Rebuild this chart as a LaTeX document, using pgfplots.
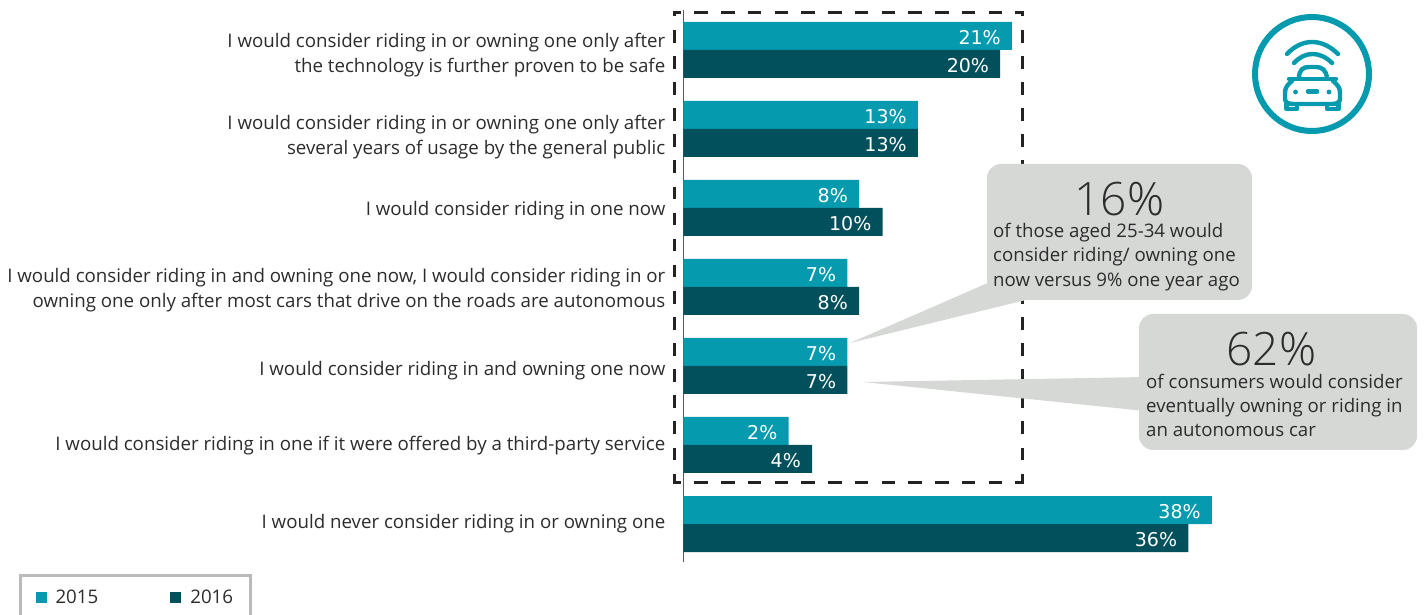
\documentclass[border=0pt]{standalone}
\usepackage{pgfplots}
\pgfplotsset{compat=1.18}
\usepackage{fontspec}
\setmainfont{Open Sans}
\newfontfamily\lightfont{Open Sans Light}
\newfontfamily\barfont{DejaVu Sans}
\definecolor{teal15}{HTML}{069AAE}
\definecolor{teal16}{HTML}{02505B}
\definecolor{calloutgray}{HTML}{D6D8D6}
\definecolor{txt}{HTML}{2C2C2C}
\definecolor{legline}{HTML}{B8BBB9}
\pgfplotstableread{
y v15 v16
0 21 20
1 13 13
2 8 10
3 7 8
4 7 7
5 2 4
6 38 36
}\datatable
\newcommand{\px}[2]{(#1pt,{615pt-#2pt})}
\begin{document}
\begin{tikzpicture}[x=1pt,y=1pt]
\useasboundingbox (0,0) rectangle (1424,615);
\clip (0,0) rectangle (1424,615);
\begin{axis}[
  at={(683.5pt,53pt)},anchor=south west,
  scale only axis,width=740.5pt,height=552pt,
  xmin=0,xmax=62.97,ymin=-0.506,ymax=6.481,y dir=reverse,
  x filter/.expression={x+6.93},
  axis x line=none,axis y line*=left,
  axis line style={draw=black!65,line width=1pt,-},
  xbar,bar width=28pt,
  ytick={0.038,1.076,2.013,3.019,4.032,4.988,5.975},major tick length=0pt,
  yticklabels={{I would consider riding in or owning one only after\\the technology is further proven to be safe},
  {I would consider riding in or owning one only after\\several years of usage by the general public},
  {I would consider riding in one now},
  {I would consider riding in and owning one now, I would consider riding in or\\owning one only after most cars that drive on the roads are autonomous},
  {I would consider riding in and owning one now},
  {I would consider riding in one if it were offered by a third-party service},
  {I would never consider riding in or owning one}},
  yticklabel style={align=right,font=\fontsize{18.7}{25}\selectfont,text=txt,inner sep=0pt,xshift=-18pt,yshift=-2pt},
  point meta=explicit,
  nodes near coords={\pgfmathprintnumber[assume math mode=true]{\pgfplotspointmeta}\%},
  every node near coord/.append style={anchor=east,text=white,font=\barfont\fontsize{19}{23}\selectfont,inner sep=0pt,xshift=-11pt,yshift=-1.5pt},
  legend cell align=left,
  legend columns=2,
  legend image code/.code={\path[draw=none,fill=none] (0pt,0pt) -- (18pt,0pt);\fill[#1,draw=none] (0pt,-5.5pt) rectangle (11pt,5.5pt);},
  legend style={anchor=north west,at={(axis description cs:-0.8973,-0.0217)},draw=legline,line width=3pt,font=\fontsize{18.7}{22}\selectfont,text=txt,inner xsep=15pt,inner ysep=12pt,
    /tikz/column 2/.style={column sep=70pt}},
]
\addplot[bar shift=14pt,draw=none,fill=teal15] table[x=v15,y=y,meta=v15]{\datatable};
\addplot[bar shift=-14pt,draw=none,fill=teal16] table[x=v16,y=y,meta=v16]{\datatable};
\legend{2015,2016}
\end{axis}
% dashed frame
\begin{scope}[txt!80!black,line width=2.8pt]
\draw[dash pattern=on 13.4pt off 13.35pt,dash phase=5.9pt] \px{673.5}{12.5} -- \px{1024}{12.5};
\draw[dash pattern=on 13.4pt off 13.35pt,dash phase=5.9pt] \px{673.5}{482.7} -- \px{1024}{482.7};
\draw[dash pattern=on 12.6pt off 13.5pt,dash phase=7.1pt] \px{674.7}{11} -- \px{674.7}{484};
\draw[dash pattern=on 12.6pt off 13.5pt,dash phase=7.1pt] \px{1022.7}{11} -- \px{1022.7}{484};
\end{scope}
% callouts
\fill[calloutgray] \px{850}{343} -- \px{990}{282} -- \px{1030}{299} -- cycle;
\fill[calloutgray,rounded corners=14pt] \px{987}{164} rectangle \px{1252}{300};
\fill[calloutgray] \px{863}{382} -- \px{1145}{377} -- \px{1145}{411} -- cycle;
\fill[calloutgray,rounded corners=14pt] \px{1139}{314} rectangle \px{1417}{450};
\node[anchor=center,text=txt,font=\lightfont\fontsize{46}{46}\selectfont,inner sep=0pt] at \px{1119.5}{199} {16\%};
\node[anchor=west,align=left,text=txt,font=\fontsize{18.65}{24.5}\selectfont,inner sep=0pt] at \px{993}{257} {of those aged 25-34 would\\consider riding/ owning one\\now versus 9\% one year ago};
\node[anchor=center,text=txt,font=\lightfont\fontsize{46}{46}\selectfont,inner sep=0pt] at \px{1271.5}{349} {62\%};
\node[anchor=west,align=left,text=txt,font=\fontsize{18.65}{24}\selectfont,inner sep=0pt] at \px{1146}{405} {of consumers would consider\\eventually owning or riding in\\an autonomous car};
% icon
\draw[teal15,line width=6pt] \px{1312}{74} circle (57);
\begin{scope}[teal15,line width=4.4pt,line cap=round,line join=round]
\draw \px{1287}{54} .. controls \px{1302}{38} and \px{1322}{38} .. \px{1338}{54};
\draw \px{1294}{63} .. controls \px{1305}{51} and \px{1320}{51} .. \px{1332}{63};
\draw \px{1299}{78} .. controls \px{1299}{70} and \px{1303}{67} .. \px{1309}{67} -- \px{1316}{67} .. controls \px{1322}{67} and \px{1326}{70} .. \px{1327}{78};
\draw \px{1289}{79} -- \px{1336}{79};
\draw \px{1292}{81} .. controls \px{1287}{85} and \px{1285}{88} .. \px{1285}{93} -- \px{1285}{99} .. controls \px{1285}{102} and \px{1288}{104} .. \px{1293}{104} -- \px{1332}{104} .. controls \px{1337}{104} and \px{1340}{102} .. \px{1340}{99} -- \px{1340}{93} .. controls \px{1340}{88} and \px{1338}{85} .. \px{1333}{81};
\draw \px{1286.5}{104} -- \px{1286.5}{109} -- \px{1297}{109} -- \px{1297}{104};
\draw \px{1327}{104} -- \px{1327}{109} -- \px{1338.5}{109} -- \px{1338.5}{104};
\draw[line width=4.5pt] \px{1308}{91.5} -- \px{1317}{91.5};
\end{scope}
\fill[teal15] \px{1295.5}{92} circle (2.4) \px{1329}{92} circle (2.4);
\end{tikzpicture}
\end{document}
